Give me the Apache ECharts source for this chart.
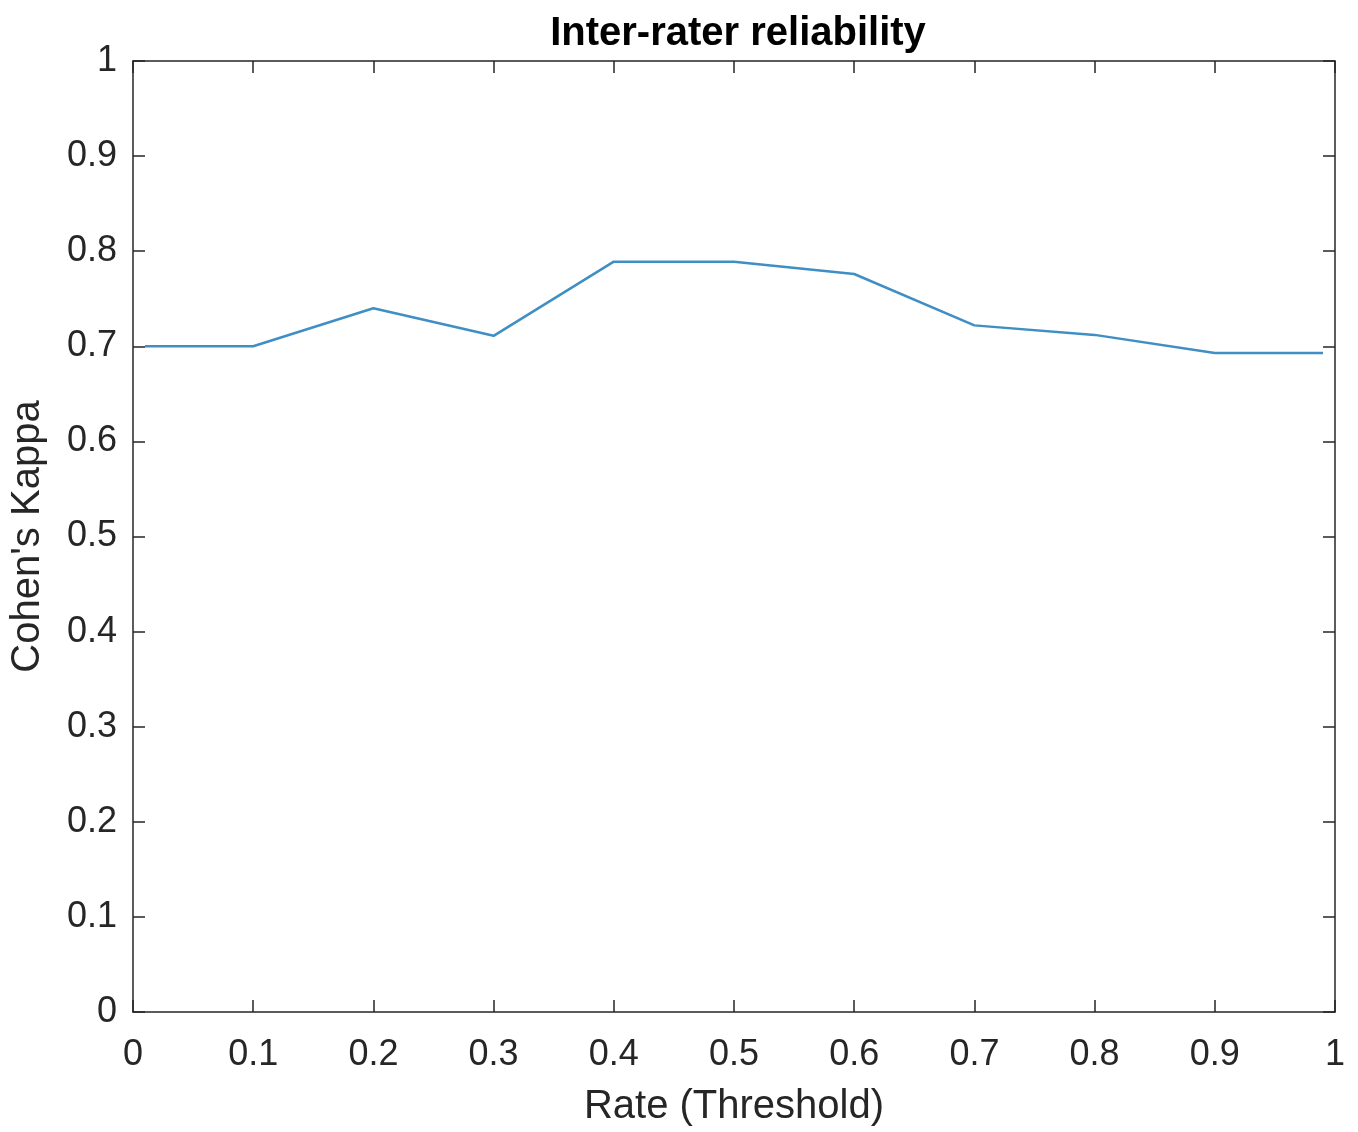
<!DOCTYPE html>
<html>
<head>
<meta charset="utf-8">
<script src="https://cdn.jsdelivr.net/npm/echarts@6/dist/echarts.min.js"></script>
<style>
html,body{margin:0;padding:0;background:#fff;}
#chart{width:1358px;height:1132px;}
</style>
</head>
<body>
<div id="chart"></div>
<script>
const thresholds = [0.01, 0.1, 0.2, 0.3, 0.4, 0.5, 0.6, 0.7, 0.8, 0.9, 0.99];
const kappa = [0.700, 0.700, 0.740, 0.711, 0.789, 0.789, 0.776, 0.722, 0.712, 0.693, 0.693];
const titleText = 'Inter-rater reliability';
const xName = 'Rate (Threshold)';
const yName = "Cohen's Kappa";

const points = thresholds.map((t, i) => [t, kappa[i]]);
const axisColor = '#262626';
const font = 'Liberation Sans';

const chart = echarts.init(document.getElementById('chart'));
const lineStyle = { color: axisColor, width: 1.5 };
const tickStyle = { show: true, inside: true, length: 12, lineStyle: { color: axisColor, width: 1.5 } };
chart.setOption({
  animation: false,
  backgroundColor: '#fff',
  title: {
    text: titleText,
    left: 733, top: 9, textAlign: 'center',
    textStyle: { fontFamily: font, fontWeight: 'bold', fontSize: 40, color: '#000' }
  },
  grid: { left: 133, right: 23, top: 61, bottom: 120, containLabel: false },
  xAxis: [{
    type: 'value', min: 0, max: 1, interval: 0.1,
    name: xName, nameLocation: 'middle', nameGap: 75,
    nameTextStyle: { fontFamily: font, fontSize: 40, color: axisColor },
    axisLine: { show: true, lineStyle },
    axisTick: tickStyle,
    axisLabel: { fontFamily: font, fontSize: 36, color: axisColor, margin: 25 },
    splitLine: { show: false }
  }, {
    type: 'value', position: 'top', min: 0, max: 1, interval: 0.1,
    axisLine: { show: true, onZero: false, lineStyle },
    axisTick: tickStyle,
    axisLabel: { show: false },
    splitLine: { show: false }
  }],
  yAxis: [{
    type: 'value', min: 0, max: 1, interval: 0.1,
    name: yName, nameLocation: 'middle', nameGap: 85,
    nameTextStyle: { fontFamily: font, fontSize: 40, color: axisColor },
    axisLine: { show: true, lineStyle },
    axisTick: tickStyle,
    axisLabel: { fontFamily: font, fontSize: 36, color: axisColor, margin: 16 },
    splitLine: { show: false }
  }, {
    type: 'value', position: 'right', min: 0, max: 1, interval: 0.1,
    axisLine: { show: true, onZero: false, lineStyle },
    axisTick: tickStyle,
    axisLabel: { show: false },
    splitLine: { show: false }
  }],
  series: [{
    type: 'line',
    data: points,
    xAxisIndex: 0, yAxisIndex: 0,
    showSymbol: false,
    lineStyle: { color: '#3f8fc5', width: 2.5 },
    itemStyle: { color: '#3f8fc5' }
  }]
});
</script>
</body>
</html>
